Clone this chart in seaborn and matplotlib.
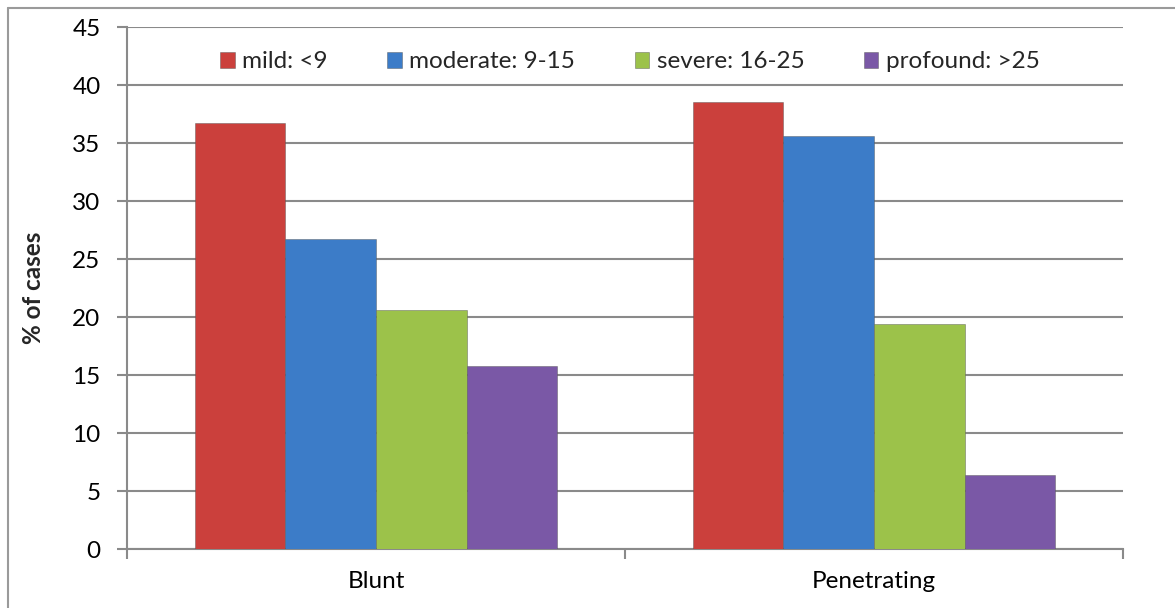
import pandas as pd
import seaborn as sns
import matplotlib.pyplot as plt
from matplotlib.lines import Line2D
from matplotlib.patches import Patch

# data
injury_type = ["Blunt", "Penetrating"]
severity = ["mild: <9", "moderate: 9-15", "severe: 16-25", "profound: >25"]
blunt_pct = [36.7, 26.7, 20.6, 15.8]
penetrating_pct = [38.5, 35.6, 19.4, 6.4]
bar_colors = ["#CB403C", "#3C7CC8", "#9CC24A", "#7A58A6"]
y_ticks = [0, 5, 10, 15, 20, 25, 30, 35, 40, 45]

df = pd.DataFrame({
    "type": [injury_type[0]] * 4 + [injury_type[1]] * 4,
    "severity": severity * 2,
    "pct": blunt_pct + penetrating_pct,
})

sns.set_theme(style="white")
plt.rcParams["font.family"] = ["Lato", "DejaVu Sans"]

W, H = 1175, 608
fig = plt.figure(figsize=(W / 100, H / 100), dpi=100)
ax = fig.add_axes([127 / W, 1 - 549 / H, (1123 - 127) / W, (549 - 27) / H])

grey = "#8a8a8a"
fs = 17.5
sns.barplot(data=df, x="type", y="pct", hue="severity", order=injury_type,
            hue_order=severity, palette=bar_colors, width=0.727, gap=0,
            saturation=1, edgecolor="#55555580", linewidth=0.6, ax=ax,
            legend=False, zorder=3)

ax.set_xlim(-0.5, 1.5)
ax.set_ylim(0, 45)
ax.set_yticks(y_ticks)
ax.yaxis.grid(True, color=grey, linewidth=1.5, zorder=0)
ax.set_axisbelow(True)

for s in ["top", "right"]:
    ax.spines[s].set_visible(False)
for s in ["left", "bottom"]:
    ax.spines[s].set_color(grey)
    ax.spines[s].set_linewidth(1.5)

ax.tick_params(axis="y", which="major", length=7, width=1.5, color=grey,
               direction="out", pad=12, labelsize=fs, labelcolor="black", left=True)
ax.tick_params(axis="x", which="major", length=0, pad=16, labelsize=fs,
               labelcolor="black")
ax.set_xticks([-0.5, 0.5, 1.5], minor=True)
ax.tick_params(axis="x", which="minor", length=7, width=1.5, color=grey,
               direction="out", bottom=True)

ax.set_xlabel("")
ax.set_ylabel("% of cases", fontsize=fs, fontweight="bold", labelpad=20)

handles = [Patch(facecolor=c, edgecolor="#55555580", linewidth=0.6) for c in bar_colors]
ax.legend(handles, severity, ncol=4, loc="center", bbox_to_anchor=(0.505, 0.933),
          frameon=False, fontsize=fs, handlelength=0.6, handleheight=0.6,
          handletextpad=0.3, columnspacing=2.45)

# outer chart frame (left and top visible in the reference)
fig.add_artist(Line2D([8 / W, 8 / W], [0, 1 - 8 / H], color="#9a9a9a", lw=1.5))
fig.add_artist(Line2D([8 / W, 1], [1 - 8 / H, 1 - 8 / H], color="#9a9a9a", lw=1.5))

fig.savefig("out.png", dpi=100, facecolor="white")
